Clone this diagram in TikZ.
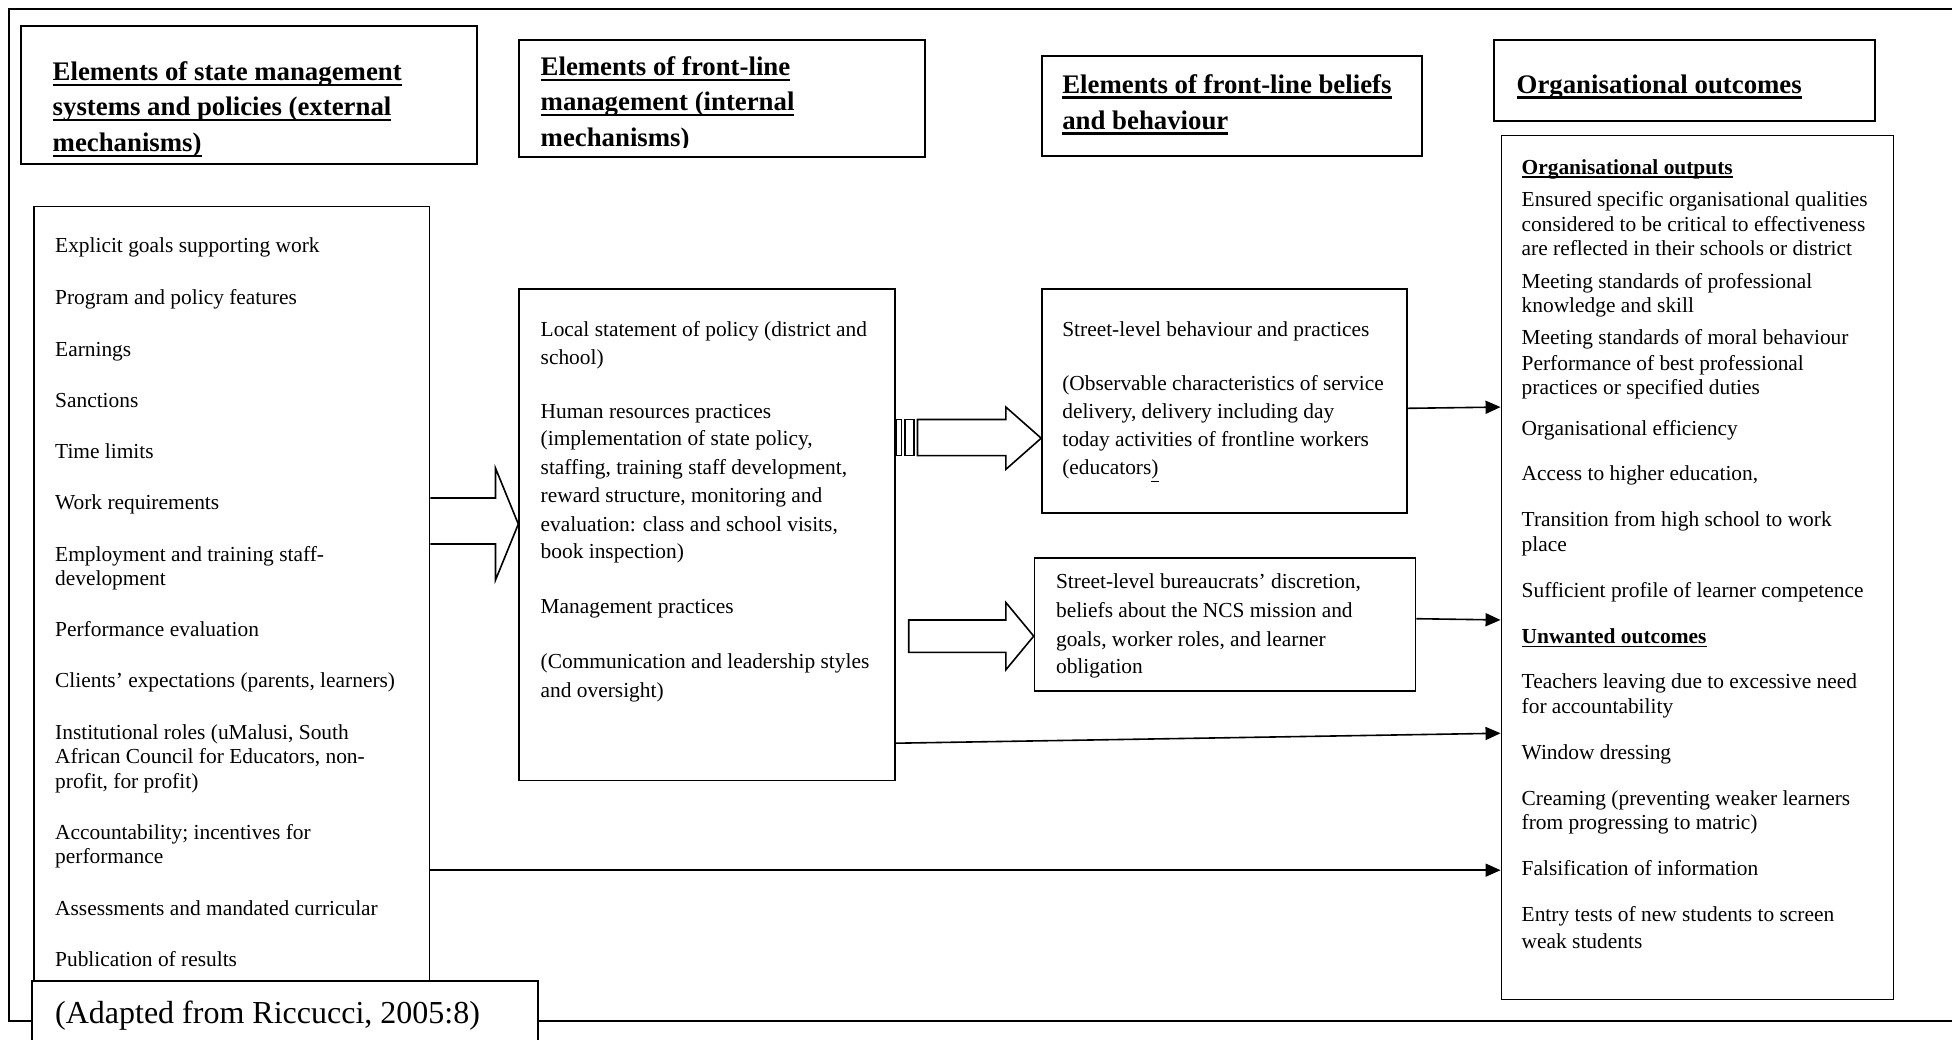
\documentclass[tikz,border=0pt]{standalone}
\usepackage{fontspec}
\setmainfont{Liberation Serif}
\usetikzlibrary{arrows.meta,fit}
\tikzset{
  box/.style={draw, line width=0.8pt, inner sep=0pt, fill=white},
  headbox/.style={draw, line width=1.1pt, inner sep=0pt, fill=white},
  txt/.style={anchor=base west, inner sep=0pt, font=\fontsize{10.7}{12}\selectfont},
  htxt/.style={anchor=base west, inner sep=0pt, font=\fontsize{13.4}{16}\selectfont\bfseries},
  arr/.style={line width=0.8pt, -{Triangle[length=7.5pt,width=6.5pt]}},
  blk/.style={draw, line width=0.8pt, fill=white, line join=miter},
}
\newcommand\hul[1]{\setbox0=\hbox{#1}\rlap{\rule[-2.6pt]{\wd0}{1.1pt}}\box0}
\newcommand\bul[1]{\setbox0=\hbox{#1}\rlap{\rule[-1.8pt]{\wd0}{0.7pt}}\box0}
\begin{document}
\begin{tikzpicture}[x=0.6225pt,y=-0.6225pt]
\useasboundingbox (0,0) rectangle (1568,835);
% outer frame
\draw[line width=1.2pt] (1580,7) -- (7,7) -- (7,820) -- (1580,820);

% headings
\node[headbox, fit={(17,21) (383,132)}] (h1) {};
\node[htxt] (h1a) at (42,65) {\hul{Elements of state management}};
\node[htxt] (h1b) at (42,93) {\hul{systems and policies (external}};
\node[htxt] (h1c) at (42,122) {\hul{mechanisms)}};

\node[headbox, fit={(417,32) (743,126)}] (h2) {};
\node[htxt] (h2a) at (434,61) {\hul{Elements of front-line}};
\node[htxt] (h2b) at (434,89) {\hul{management (internal}};
\begin{scope}
\clip (418,32) rectangle (742,118.5);
\node[htxt] (h2c) at (434,118) {mechanisms)};
\end{scope}

\node[headbox, fit={(837,45) (1142,125)}] (h3) {};
\node[htxt] (h3a) at (853,75) {\hul{Elements of front-line beliefs}};
\node[htxt] (h3b) at (853,104) {\hul{and behaviour}};

\node[headbox, fit={(1200,32) (1506,97)}] (h4) {};
\node[htxt] (h4a) at (1218,75) {\hul{Organisational outcomes}};

% left box
\node[box, fit={(27.5,166) (345,805)}] (left) {};
\foreach \n/\y/\t in {1/197/{Explicit goals supporting work},
  2/239/{Program and policy features},
  3/280/{Earnings},
  4/321/{Sanctions},
  5/362/{Time limits},
  6/403/{Work requirements},
  7/445/{Employment and training staff-},
  8/464/{development},
  9/505/{Performance evaluation},
  10/546/{Clients’ expectations (parents, learners)},
  11/588/{Institutional roles (uMalusi, South},
  12/607/{African Council for Educators, non-},
  13/627/{profit, for profit)},
  14/668/{Accountability; incentives for},
  15/688/{performance},
  16/729/{Assessments and mandated curricular},
  17/770/{Publication of results}}
  \node[txt] (l\n) at (44,\y+6) {\t};

% middle box
\node[box, fit={(417,232) (719,627)}] (mid) {};
\foreach \n/\y/\t in {1/264/{Local statement of policy (district and},
  2/287/{school)},
  3/330/{Human resources practices},
  4/352/{(implementation of state policy,},
  5/375/{staffing, training staff development,},
  6/398/{reward structure, monitoring and},
  7/421/{evaluation: class and school visits,},
  8/443/{book inspection)},
  9/487/{Management practices},
  10/531/{(Communication and leadership styles},
  11/554/{and oversight)}}
  \node[txt] (m\n) at (434,\y+6) {\t};

% street-level behaviour box
\node[box, fit={(837,232) (1130,412)}] (slb) {};
\foreach \n/\y/\t in {1/264/{Street-level behaviour and practices},
  2/308/{(Observable characteristics of service},
  3/330/{delivery, delivery including day},
  4/353/{today activities of frontline workers},
  5/375/{(educators\underline{)}}}
  \node[txt] (s\n) at (853,\y+6) {\t};

% bureaucrats box
\node[box, fit={(831,448) (1137,555)}] (bur) {};
\foreach \n/\y/\t in {1/467/{Street-level bureaucrats’ discretion,},
  2/490/{beliefs about the NCS mission and},
  3/513/{goals, worker roles, and learner},
  4/535/{obligation}}
  \node[txt] (b\n) at (848,\y+6) {\t};

% outcomes box
\node[box, fit={(1206,109) (1521,803)}] (out) {};
\node[txt] (o0) at (1222,140) {\bfseries\bul{Organisational outputs}};
\foreach \n/\y/\t in {1/160/{Ensured specific organisational qualities},
  2/180/{considered to be critical to effectiveness},
  3/199/{are reflected in their schools or district},
  4/226/{Meeting standards of professional},
  5/245/{knowledge and skill},
  6/271/{Meeting standards of moral behaviour},
  7/292/{Performance of best professional},
  8/311/{practices or specified duties},
  9/344/{Organisational efficiency},
  10/380/{Access to higher education,},
  11/417/{Transition from high school to work},
  12/437/{place},
  13/474/{Sufficient profile of learner competence},
  15/547/{Teachers leaving due to excessive need},
  16/567/{for accountability},
  17/604/{Window dressing},
  18/641/{Creaming (preventing weaker learners},
  19/660/{from progressing to matric)},
  20/697/{Falsification of information},
  21/734/{Entry tests of new students to screen},
  22/756/{weak students}}
  \node[txt] (o\n) at (1222,\y+6) {\t};
\node[txt] (o14) at (1222,517) {\bfseries\bul{Unwanted outcomes}};

% block arrows
\draw[blk] (left.east |- 0,400) -- (398,400) -- (398,376) -- (mid.west |- 0,421)
  -- (398,466) -- (398,437) -- (left.east |- 0,437);
\draw[blk] (mid.east |- 0,337) rectangle (724,366);
\draw[blk] (727,337) rectangle (734,366);
\draw[blk] (737,337) -- (808,337) -- (808,327) -- (slb.west |- 0,352)
  -- (808,377) -- (808,366) -- (737,366) -- cycle;
\draw[blk] (730,498) -- (808,498) -- (808,484) -- (bur.west |- 0,511)
  -- (808,538) -- (808,524) -- (730,524) -- cycle;

% thin arrows
\draw[arr] (slb.east |- 0,328) -- (out.west |- 0,327);
\draw[arr] (bur.east |- 0,497) -- (out.west |- 0,498);
\draw[arr] (mid.east |- 0,597) -- (out.west |- 0,589);
\draw[arr] (left.east |- 0,699) -- (out.west |- 0,699);

% caption
\node[box, fit={(25.5,788) (432,850)}] (cap) {};
\node[anchor=base west, inner sep=0pt, font=\fontsize{16}{19}\selectfont] (capt) at (44,822) {(Adapted from Riccucci, 2005:8)};
\end{tikzpicture}
\end{document}
